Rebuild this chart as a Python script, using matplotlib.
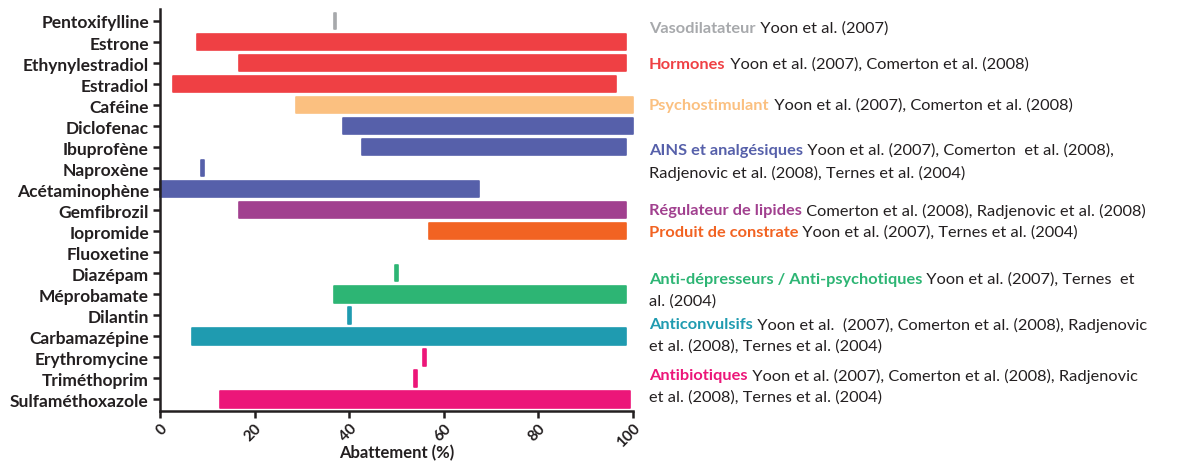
import matplotlib
matplotlib.use("Agg")
import matplotlib.pyplot as plt
import numpy as np

plt.rcParams["font.family"] = ["Lato", "DejaVu Sans"]

drugs = ["Pentoxifylline", "Estrone", "Ethynylestradiol", "Estradiol", "Caféine",
         "Diclofenac", "Ibuprofène", "Naproxène", "Acétaminophène", "Gemfibrozil",
         "Iopromide", "Fluoxetine", "Diazépam", "Méprobamate", "Dilantin",
         "Carbamazépine", "Erythromycine", "Triméthoprim", "Sulfaméthoxazole"]
start = [37, 7.8, 16.8, 2.7, 28.8, 38.7, 42.8, 8.9, 0, 16.8, 56.9, np.nan,
         50, 36.7, 40, 6.7, 56, 54, 12.7]
end = [37, 98.5, 98.5, 96.4, 100, 100, 98.5, 8.9, 67.4, 98.5, 98.5, np.nan,
       50, 98.5, 40, 98.5, 56, 54, 99.4]
drug_class = ["vaso", "horm", "horm", "horm", "psy", "ains", "ains", "ains", "ains",
              "lip", "contr", "dep", "dep", "dep", "conv", "conv", "atb", "atb", "atb"]
xticks = [0, 20, 40, 60, 80, 100]

colors = {"vaso": "#A7A9AC", "horm": "#EF4044", "psy": "#FBC080", "ains": "#5660AA",
          "lip": "#A1408F", "contr": "#F26322", "dep": "#2DB574", "conv": "#1F9BB0",
          "atb": "#EC1679"}

# annotations on the right: (class, bold label, rest of line 1, line 2, y px)
notes = [
    ("vaso", "Vasodilatateur", " Yoon et al. (2007)", None, 29),
    ("horm", "Hormones", " Yoon et al. (2007), Comerton et al. (2008)", None, 65),
    ("psy", "Psychostimulant", " Yoon et al. (2007), Comerton et al. (2008)", None, 106),
    ("ains", "AINS et analgésiques", " Yoon et al. (2007), Comerton  et al. (2008),",
     "Radjenovic et al. (2008), Ternes et al. (2004)", 151),
    ("lip", "Régulateur de lipides", " Comerton et al. (2008), Radjenovic et al. (2008)", None, 211),
    ("contr", "Produit de constrate", " Yoon et al. (2007), Ternes et al. (2004)", None, 233),
    ("dep", "Anti-dépresseurs / Anti-psychotiques", " Yoon et al. (2007), Ternes  et",
     "al. (2004)", 280),
    ("conv", "Anticonvulsifs", " Yoon et al.  (2007), Comerton et al. (2008), Radjenovic",
     "et al. (2008), Ternes et al. (2004)", 325),
    ("atb", "Antibiotiques", " Yoon et al. (2007), Comerton et al. (2008), Radjenovic",
     "et al. (2008), Ternes et al. (2004)", 376),
]

W, H = 1195, 464
dark = "#231F20"
fig = plt.figure(figsize=(W / 100, H / 100), dpi=100)
ax = fig.add_axes([160 / W, 1 - 412 / H, (633 - 160) / W, (412 - 10) / H])

y = np.arange(len(drugs))
for i, (s, e, c) in enumerate(zip(start, end, drug_class)):
    if np.isnan(s):
        continue
    if s == e:
        left, width = s - 0.3, 0.6
    else:
        left, width = s, e - s
    ax.barh(y[i], width, left=left, height=0.78, color=colors[c],
            edgecolor=colors[c], linewidth=1.2, joinstyle="round", clip_on=False)

ax.set_xlim(0, 100)
ax.set_ylim(18.55, -0.57)
ax.set_yticks(y)
ax.set_yticklabels(drugs, fontsize=12.5, fontweight="bold", color=dark)
ax.set_xticks(xticks)
ax.set_xticklabels([str(v) for v in xticks], fontsize=11, fontweight="bold",
                   color=dark, rotation=45, ha="right", rotation_mode="anchor")
ax.set_xlabel("Abattement (%)", fontsize=12, fontweight="bold", color=dark, va="center")
ax.xaxis.set_label_coords(0.5, -41 / 402)
for sp in ["top", "right"]:
    ax.spines[sp].set_visible(False)
for sp in ["left", "bottom"]:
    ax.spines[sp].set_linewidth(1.8)
    ax.spines[sp].set_color(dark)
ax.tick_params(axis="both", length=5, width=1.8, color=dark)
ax.tick_params(axis="y", pad=3)
ax.tick_params(axis="x", pad=2)

for c, bold, rest, line2, ypx in notes:
    t = fig.text(649 / W, 1 - ypx / H, bold, color=colors[c], fontweight="bold",
                 fontsize=11.8, va="center", ha="left")
    ax.annotate(rest, xy=(1, 0.5), xycoords=t, va="center", ha="left",
                fontsize=11.8, color=dark, annotation_clip=False)
    if line2:
        fig.text(649 / W, 1 - (ypx + 22) / H, line2, color=dark, fontsize=11.8,
                 va="center", ha="left")

fig.savefig("out.png", dpi=100)
